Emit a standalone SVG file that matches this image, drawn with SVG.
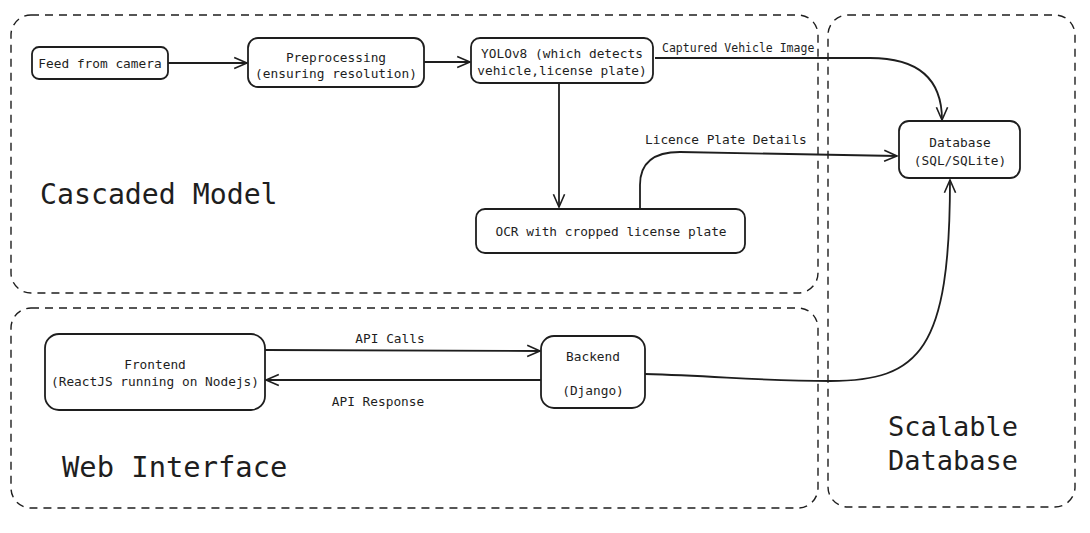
<svg xmlns="http://www.w3.org/2000/svg" width="1090" height="533" viewBox="0 0 1090 533">
<defs>
<style>
.frame{fill:none;stroke:#1e1e1e;stroke-width:1.4;stroke-dasharray:8 6}
.node{fill:#fff;stroke:#1e1e1e;stroke-width:1.8}
.t{font-family:"DejaVu Sans Mono","Liberation Mono",monospace;font-size:12.8px;fill:#1e1e1e;text-anchor:middle}
.lbl{font-family:"DejaVu Sans Mono","Liberation Mono",monospace;fill:#1e1e1e}
.big{font-family:"DejaVu Sans Mono","Liberation Mono",monospace;font-size:27px;fill:#1e1e1e}
.edge{fill:none;stroke:#1e1e1e;stroke-width:1.8;marker-end:url(#arr)}
</style>
<marker id="arr" viewBox="0 0 20 20" refX="18" refY="10" markerWidth="16" markerHeight="16" markerUnits="userSpaceOnUse" orient="auto">
<path d="M2 3 L18 10 L2 17" fill="none" stroke="#1e1e1e" stroke-width="2"/>
</marker>
</defs>
<rect width="1090" height="533" fill="#fff"/>

<g id="frame-cascaded">
<rect class="frame" x="11" y="15" width="807" height="278" rx="20"/>
<text class="big" x="40" y="204" style="font-size:28.2px">Cascaded Model</text>
</g>
<g id="frame-web">
<rect class="frame" x="11" y="308" width="807" height="200" rx="20"/>
<text class="big" x="62" y="477" style="font-size:28.8px">Web Interface</text>
</g>
<g id="frame-db">
<rect class="frame" x="828" y="15" width="247" height="492" rx="20"/>
<text class="big" x="888" y="436">Scalable</text>
<text class="big" x="888" y="470">Database</text>
</g>

<g id="connectors">
<path class="edge" d="M168 63 L247 63"/>
<path class="edge" d="M424 62 L470 62"/>
<path class="edge" d="M655 58 L870 58 Q942 58 942 120"/>
<path class="edge" d="M559 84 L559 207"/>
<path class="edge" d="M640 208 L640 185 Q640 152 680 152 L897 156"/>
<path class="edge" d="M265 350 L540 351"/>
<path class="edge" d="M541 380 L266 380"/>
<path class="edge" d="M645 374 C720 376 760 381 830 381 C920 381 950 350 950 180"/>
<text class="lbl" x="662" y="52" style="font-size:11.5px">Captured Vehicle Image</text>
<text class="lbl" x="645" y="144" style="font-size:12.8px">Licence Plate Details</text>
<text class="t" x="390" y="343">API Calls</text>
<text class="t" x="378" y="406">API Response</text>
</g>

<g id="node-feed">
<rect class="node" x="32" y="47" width="136" height="32" rx="7"/>
<text class="t" x="100" y="67.5">Feed from camera</text>
</g>
<g id="node-preprocessing">
<rect class="node" x="248" y="38" width="176" height="49" rx="10"/>
<text class="t" x="336" y="62">Preprocessing</text>
<text class="t" x="336" y="78">(ensuring resolution)</text>
</g>
<g id="node-yolo">
<rect class="node" x="471" y="38" width="182" height="45" rx="9"/>
<text class="t" x="562" y="58">YOLOv8 (which detects</text>
<text class="t" x="562" y="75">vehicle,license plate)</text>
</g>
<g id="node-ocr">
<rect class="node" x="476" y="209" width="269" height="44" rx="9"/>
<text class="t" x="611" y="236">OCR with cropped license plate</text>
</g>
<g id="node-database">
<rect class="node" x="899" y="121" width="121" height="57" rx="10"/>
<text class="t" x="960" y="147">Database</text>
<text class="t" x="960" y="165">(SQL/SQLite)</text>
</g>
<g id="node-frontend">
<rect class="node" x="45" y="334" width="220" height="76" rx="14"/>
<text class="t" x="155" y="369">Frontend</text>
<text class="t" x="155" y="386">(ReactJS running on Nodejs)</text>
</g>
<g id="node-backend">
<rect class="node" x="541" y="336" width="104" height="72" rx="13"/>
<text class="t" x="593" y="361">Backend</text>
<text class="t" x="593" y="395">(Django)</text>
</g>
</svg>
